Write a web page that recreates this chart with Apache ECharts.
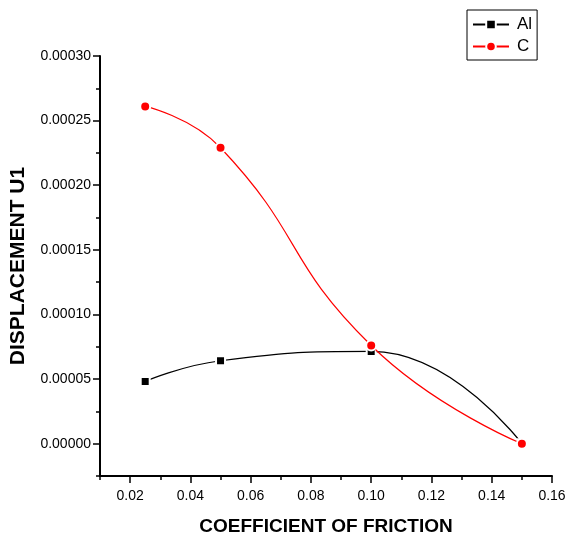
<!DOCTYPE html>
<html>
<head>
<meta charset="utf-8">
<script src="https://cdn.jsdelivr.net/npm/echarts@6/dist/echarts.min.js"></script>
<style>
  html, body { margin: 0; padding: 0; background: #fff; }
  #chart { width: 568px; height: 540px; }
</style>
</head>
<body>
<div id="chart"></div>
<script>
// Coefficient of friction (x) and displacement U1 for each material
var friction = [0.025, 0.05, 0.10, 0.15];
var alValues = [0.0000482, 0.0000642, 0.0000714, 0.0];
var cValues  = [0.000261, 0.000229, 0.000076, 0.0];

// Tick positions
var xMajorTicks = [0.02, 0.04, 0.06, 0.08, 0.10, 0.12, 0.14, 0.16];
var xMinorTicks = [0.01, 0.03, 0.05, 0.07, 0.09, 0.11, 0.13, 0.15];
var yMajorTicks = [0.0, 0.00005, 0.00010, 0.00015, 0.00020, 0.00025, 0.00030];
var yMinorTicks = [-0.000025, 0.000025, 0.000075, 0.000125, 0.000175, 0.000225, 0.000275];

var FONT = '"Liberation Sans", Arial, sans-serif';

function pairs(xs, ys) {
  return xs.map(function (x, i) { return [x, ys[i]]; });
}

var chart = echarts.init(document.getElementById('chart'), null, { renderer: 'canvas' });

// Several axes share one grid edge: one carries the line and minor ticks,
// one the major ticks, one the labels and title.
function xAxisOf(extra) {
  return Object.assign({
    type: 'value', min: 0.01, max: 0.16, position: 'bottom', offset: 0,
    splitLine: { show: false },
    axisLine: { show: false, onZero: false },
    axisTick: { show: false },
    axisLabel: { show: false }
  }, extra);
}
function yAxisOf(extra) {
  return Object.assign({
    type: 'value', min: -0.000025, max: 0.0003, position: 'left', offset: 0,
    splitLine: { show: false },
    axisLine: { show: false, onZero: false },
    axisTick: { show: false },
    axisLabel: { show: false }
  }, extra);
}
function ticks(values, len) {
  return { show: true, inside: false, length: len, customValues: values, lineStyle: { color: '#000', width: 1.5 } };
}

chart.setOption({
  animation: false,
  backgroundColor: '#ffffff',
  grid: { left: 100, right: 16, top: 56, bottom: 64, outerBoundsMode: 'none', containLabel: false },
  legend: {
    left: 467, top: 10,
    orient: 'vertical',
    itemWidth: 36, itemHeight: 12, itemGap: 5,
    padding: [6, 5, 5, 5],
    borderColor: '#000', borderWidth: 1, borderRadius: 0,
    textStyle: { fontFamily: FONT, fontSize: 17, color: '#000', padding: [0, 0, 0, 3] },
    data: ['Al', 'C']
  },
  xAxis: [
    xAxisOf({
      axisLine: { show: true, onZero: false, lineStyle: { color: '#000', width: 2 } },
      axisTick: ticks(xMinorTicks, 4)
    }),
    xAxisOf({ axisTick: ticks(xMajorTicks, 7) }),
    xAxisOf({
      name: 'COEFFICIENT OF FRICTION',
      nameLocation: 'middle', nameGap: 41,
      nameTextStyle: { fontFamily: FONT, fontSize: 19, fontWeight: 'bold', color: '#000' },
      axisLabel: {
        show: true, customValues: xMajorTicks, margin: 13,
        fontFamily: FONT, fontSize: 14, color: '#000',
        formatter: function (v) { return v.toFixed(2); }
      }
    })
  ],
  yAxis: [
    yAxisOf({
      axisLine: { show: true, onZero: false, lineStyle: { color: '#000', width: 2 } },
      axisTick: ticks(yMinorTicks, 4)
    }),
    yAxisOf({ axisTick: ticks(yMajorTicks, 7) }),
    yAxisOf({
      name: 'DISPLACEMENT U1',
      nameLocation: 'middle', nameGap: 71, nameRotate: 90,
      nameTextStyle: { fontFamily: FONT, fontSize: 21, fontWeight: 'bold', color: '#000' },
      axisLabel: {
        show: true, customValues: yMajorTicks, margin: 9,
        fontFamily: FONT, fontSize: 14, color: '#000',
        formatter: function (v) { return Math.abs(v).toFixed(5); }
      }
    })
  ],
  series: [
    {
      name: 'Al', type: 'line', xAxisIndex: 0, yAxisIndex: 0,
      data: pairs(friction, alValues),
      smooth: 0.5,
      symbol: 'rect', symbolSize: 9,
      lineStyle: { color: '#000', width: 1.2 },
      itemStyle: { color: '#000', borderColor: '#fff', borderWidth: 2 },
      z: 2
    },
    {
      name: 'C', type: 'line', xAxisIndex: 0, yAxisIndex: 0,
      data: pairs(friction, cValues),
      smooth: 0.5,
      symbol: 'circle', symbolSize: 10,
      lineStyle: { color: '#ff0000', width: 1.2 },
      itemStyle: { color: '#ff0000', borderColor: '#fff', borderWidth: 2 },
      z: 3
    }
  ]
});
</script>
</body>
</html>
